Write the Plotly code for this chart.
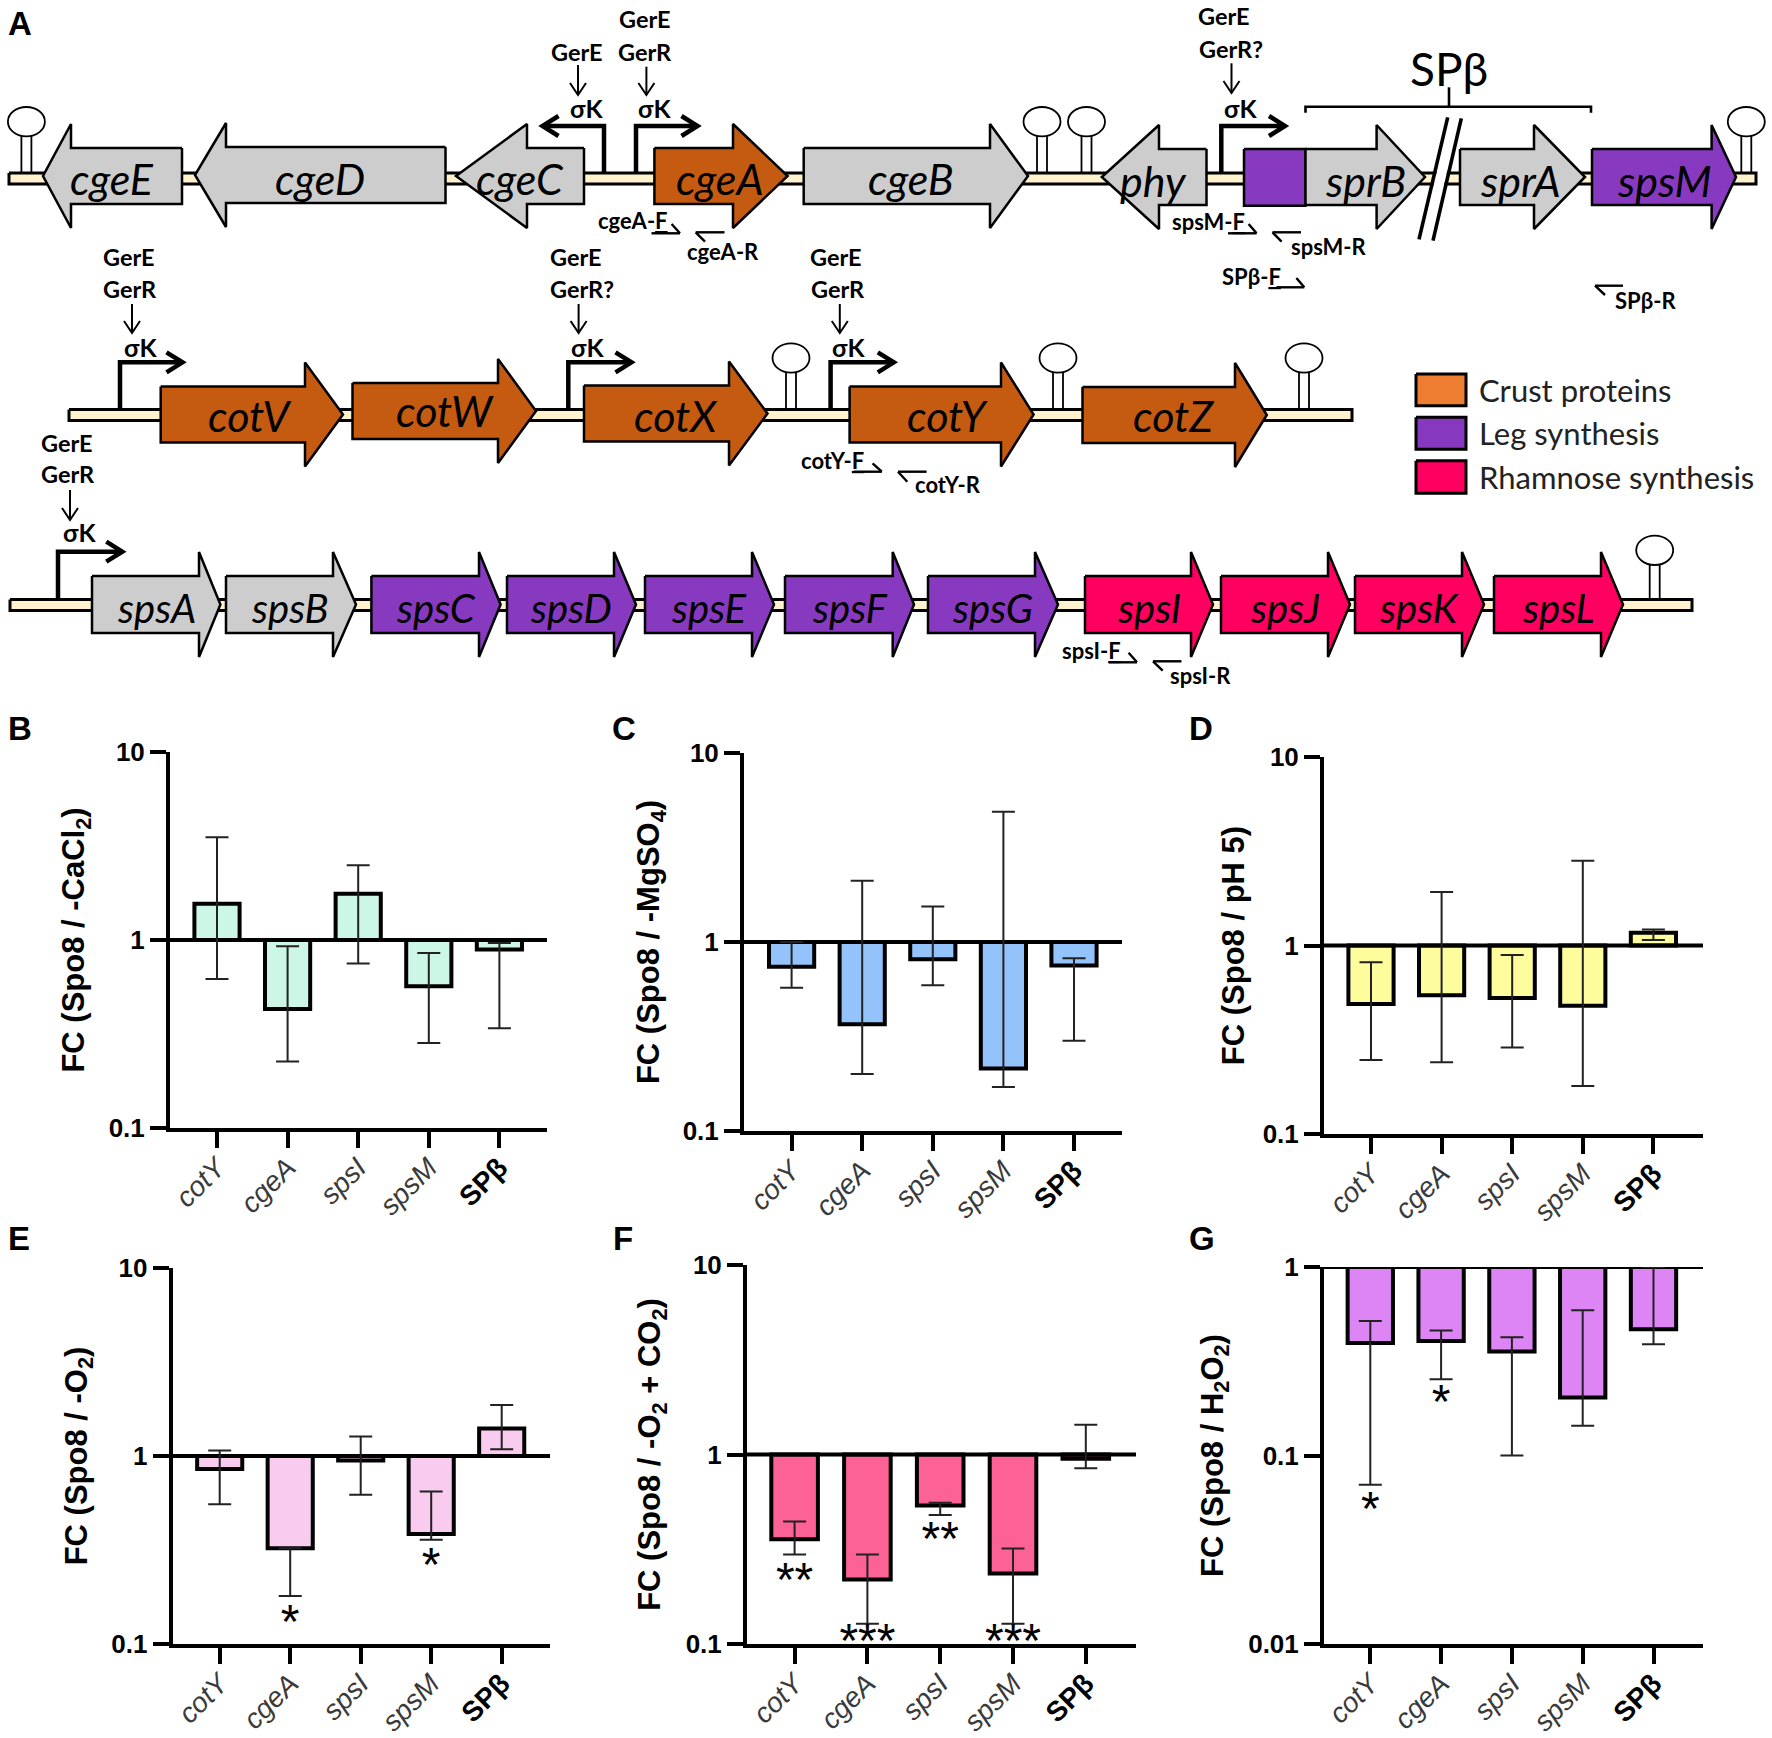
import plotly.graph_objects as go

W, H = 1772, 1738
categories = ["cotY", "cgeA", "spsI", "spsM", "SPβ"]
tick_labels = ["<i>cotY</i>", "<i>cgeA</i>", "<i>spsI</i>", "<i>spsM</i>", "<span style='color:black'><b>SPβ</b></span>"]

# ---------- fold change values ----------
b_val = [1.56, 0.43, 1.76, 0.567, 0.889]
b_hi = [3.52, 0.925, 2.5, 0.853, 0.964]
b_lo = [0.62, 0.226, 0.75, 0.283, 0.339]
c_val = [0.74, 0.367, 0.81, 0.214, 0.75]
c_hi = [1.0, 2.11, 1.54, 4.89, 0.82]
c_lo = [0.573, 0.2, 0.59, 0.171, 0.30]
d_val = [0.49, 0.545, 0.526, 0.479, 1.167]
d_hi = [0.816, 1.92, 0.89, 2.82, 1.216]
d_lo = [0.247, 0.24, 0.288, 0.18, 1.07]
e_val = [0.853, 0.323, 0.945, 0.385, 1.40]
e_hi = [1.07, 0.323, 1.27, 0.647, 1.87]
e_lo = [0.553, 0.18, 0.623, 0.358, 1.085]
f_val = [0.357, 0.219, 0.538, 0.2355, 0.949]
f_hi = [0.443, 0.297, 0.556, 0.319, 1.435]
f_lo = [0.297, 0.128, 0.48, 0.128, 0.847]
g_val = [0.395, 0.405, 0.356, 0.203, 0.467]
g_hi = [0.517, 0.46, 0.424, 0.589, 1.0]
g_lo = [0.07, 0.254, 0.1, 0.144, 0.389]

# panel: id, title, colour, values, hi, lo, axis x, end x, first tick x, tick step, top y, bottom y, y range, ticks, standoff
panels = [
    ("B", "FC (Spo8 / -CaCl<sub>2</sub>)", "#CCF7E6", b_val, b_hi, b_lo, 170, 547, 217, 70.6, 752, 1128, [-1, 1], [0.1, 1, 10], 15.5),
    ("C", "FC (Spo8 / -MgSO<sub>4</sub>)", "#94C2FA", c_val, c_hi, c_lo, 744, 1122, 791.6, 70.6, 753, 1131, [-1, 1], [0.1, 1, 10], 14.3),
    ("D", "FC (Spo8 / pH 5)", "#FEFD9E", d_val, d_hi, d_lo, 1324, 1703, 1371, 70.6, 757, 1134, [-1, 1], [0.1, 1, 10], 10),
    ("E", "FC (Spo8 / -O<sub>2</sub>)", "#F9CBEE", e_val, e_hi, e_lo, 172.6, 550, 219.7, 70.5, 1268, 1644, [-1, 1], [0.1, 1, 10], 15.5),
    ("F", "FC (Spo8 / -O<sub>2</sub> + CO<sub>2</sub>)", "#FD6296", f_val, f_hi, f_lo, 747, 1136, 794.6, 72.8, 1265, 1644, [-1, 1], [0.1, 1, 10], 16.6),
    ("G", "FC (Spo8 / H<sub>2</sub>O<sub>2</sub>)", "#DD85F5", g_val, g_hi, g_lo, 1324, 1703, 1370.3, 70.8, 1267, 1644, [-2, 0], [0.01, 0.1, 1], 16.6),
]
# significance marks: panel -> (category position, y value, text, text position)
stars = {
    "E": [(1, 0.125, "*", "middle center"), (3, 0.25, "*", "middle center")],
    "F": [(0, 0.208, "**", "middle center"), (1, 0.133, "***", "bottom center"), (2, 0.34, "**", "middle center"), (3, 0.133, "***", "bottom center")],
    "G": [(0, 0.0496, "*", "middle center"), (1, 0.183, "*", "middle center")],
}

# ---------- panel A schematic ----------
CREAM, GREY, ORANGE, PURPLE, PINK = "#FFF2CC", "#CDCDCD", "#C55A11", "#8739BF", "#FF0060"
# backbone: x0, x1, y centre
backbones = [(9, 1756, 178.5), (69, 1352, 415), (10, 1692, 605)]
# gene: name, tail x, neck x, tip x, y centre, colour
genes_row1 = [
    ("cgeE", 182, 71, 43, 176, GREY), ("cgeD", 445.5, 226, 195, 175, GREY), ("cgeC", 584, 527, 456, 176, GREY),
    ("cgeA", 654.4, 733, 787.6, 176, ORANGE), ("cgeB", 803.7, 990, 1028, 176, GREY), ("phy", 1206.5, 1159, 1101.8, 177, GREY),
    ("sprB", 1305.5, 1376.6, 1425, 177, GREY), ("sprA", 1460, 1534, 1585, 177, GREY), ("spsM", 1592, 1711.6, 1736, 177, PURPLE),
]
genes_row2 = [
    ("cotV", 160.7, 305, 343, 414.5, ORANGE), ("cotW", 352.5, 498, 536, 411, ORANGE), ("cotX", 584, 729, 767.5, 413.5, ORANGE),
    ("cotY", 849.6, 1001, 1033.6, 414.5, ORANGE), ("cotZ", 1082.5, 1235, 1266.8, 415, ORANGE),
]
genes_row3 = [
    ("spsA", 92, 199, 220.4, 604.5, GREY), ("spsB", 226, 333, 356, 604.5, GREY), ("spsC", 371.4, 479, 500.6, 604.5, PURPLE),
    ("spsD", 507, 614, 636, 604.5, PURPLE), ("spsE", 645, 752, 774, 604.5, PURPLE), ("spsF", 785, 892.7, 914, 604.5, PURPLE),
    ("spsG", 928, 1035, 1058, 604.5, PURPLE), ("spsI", 1085, 1191, 1213, 604.5, PINK), ("spsJ", 1221, 1328, 1350, 604.5, PINK),
    ("spsK", 1355, 1462, 1484, 604.5, PINK), ("spsL", 1494, 1601, 1623, 604.5, PINK),
]
# gene label centres
gene_labels = [
    ("cgeE", 112, 178, 43), ("cgeD", 320, 178, 43), ("cgeC", 519.5, 178, 43), ("cgeA", 720, 178, 43), ("cgeB", 911, 178, 43),
    ("phy", 1153, 180, 43), ("sprB", 1365, 180, 43), ("sprA", 1520, 180, 43), ("spsM", 1664, 180, 43),
    ("cotV", 250, 415, 43), ("cotW", 445, 410, 43), ("cotX", 676, 415, 43), ("cotY", 947, 415, 43), ("cotZ", 1173, 415, 43),
    ("spsA", 156, 608, 40), ("spsB", 290, 608, 40), ("spsC", 436, 608, 40), ("spsD", 571, 608, 40), ("spsE", 709, 608, 40),
    ("spsF", 850, 608, 40), ("spsG", 992, 608, 40), ("spsI", 1148.5, 608, 40), ("spsJ", 1285, 608, 40), ("spsK", 1419, 608, 40),
    ("spsL", 1558, 608, 40),
]
# hairpin: stem x, loop centre y, stem foot y
hairpins = [(26.4, 121.7, 172), (1042, 121.7, 172), (1086.5, 121.7, 172), (1746.3, 121.7, 172),
            (791, 358, 408), (1058, 358, 408), (1304, 358, 408), (1654.7, 550.3, 598)]
# promoter: stem x, foot y, bar y, head tip x
promoters = [(604, 172, 126, 542.5), (636, 172, 126, 697.5), (1221.3, 172, 126, 1285),
             (120, 408, 362.3, 182.5), (568.3, 408, 362.3, 631.5), (830.6, 408, 362.3, 893.8), (58, 598, 551.7, 122.3)]
# sigma label x, y
sigma_labels = [(586.7, 108), (654.4, 108), (1240.6, 108), (140.6, 346.7), (587.3, 346.7), (848.4, 346.7), (79.2, 531.7)]
# regulator arrow: x, y top, y bottom
reg_arrows = [(578, 65, 95), (646.4, 66.7, 95), (1231.5, 63.3, 93), (132, 304, 333), (578.6, 304, 333), (839.8, 304, 333), (70, 490, 520)]
# regulator text
reg_text = [("GerE", 577, 51.7), ("GerE", 644.7, 19.3), ("GerR", 645, 52.3), ("GerE", 1224, 16), ("GerR?", 1231, 49),
            ("GerE", 128.6, 256.7), ("GerR", 129.7, 289.3), ("GerE", 575.8, 256.7), ("GerR?", 581.5, 289.3),
            ("GerE", 836.4, 256.7), ("GerR", 837.5, 289.3), ("GerE", 66.6, 443.3), ("GerR", 67.7, 474.3)]
# primer: x0, x1, y, hook x, hook y
primers = [(651.5, 680, 233.3, 671.6, 224), (695.7, 724.5, 232.3, 705, 241.7), (1228, 1256.6, 233.3, 1248.6, 224),
           (1272.5, 1301, 232.3, 1281.6, 241.7), (1276.5, 1304.3, 287.3, 1296.4, 278), (1595, 1623, 285.7, 1605, 295),
           (853.6, 881.8, 471.7, 872.6, 463.3), (898, 926.6, 471.7, 907.3, 481.7), (1108.7, 1137, 662.3, 1128.6, 652.7),
           (1153, 1181.5, 661.3, 1162.7, 670.7)]
primer_text = [("cgeA-<u>F</u>", 633, 220), ("cgeA-R", 723, 251.7), ("spsM-<u>F</u>", 1208.8, 221.7), ("spsM-R", 1329.4, 246.7),
               ("SPβ-<u>F</u>", 1251, 276), ("SPβ-R", 1645, 300), ("cotY-<u>F</u>", 832.4, 460), ("cotY-R", 948, 484.3),
               ("spsI-<u>F</u>", 1091.6, 650.7), ("spsI-R", 1200, 675)]
legend_items = [("Crust proteins", "#ED7D31", 374, 405.7, 390), ("Leg synthesis", "#8639BF", 417.3, 449.3, 433),
                ("Rhamnose synthesis", "#FF0060", 460.7, 493.3, 477)]
panel_letters = [("A", 20, 23), ("B", 20, 728), ("C", 624, 728), ("D", 1201, 728), ("E", 19, 1238), ("F", 623, 1238), ("G", 1201.5, 1238)]

fig = go.Figure()
layout = dict(width=W, height=H, margin=dict(l=0, r=0, t=0, b=0, autoexpand=False), showlegend=False,
              paper_bgcolor="white", plot_bgcolor="rgba(0,0,0,0)")
annotations, shapes = [], []
SANS = "Liberation Sans"
positions = list(range(len(categories)))

for i, (pid, title, colour, val, hi, lo, ax0, ax1, t0, step, ytop, ybot, yr, yt, standoff) in enumerate(panels):
    n = i + 1
    xa, ya = f"x{n}", f"y{n}"
    xr = [(ax0 - t0) / step, (ax1 - t0) / step]
    fig.add_trace(go.Bar(x=positions, y=[v - 1 for v in val], base=1, width=0.64, xaxis=xa, yaxis=ya, name=pid,
                         marker=dict(color=colour, line=dict(color="black", width=4)), hoverinfo="skip"))
    fig.add_trace(go.Scatter(x=xr, y=[1, 1], mode="lines", xaxis=xa, yaxis=ya,
                             line=dict(color="black", width=4), hoverinfo="skip", cliponaxis=False))
    fig.add_trace(go.Scatter(x=positions, y=val, mode="markers", xaxis=xa, yaxis=ya, marker=dict(size=1, opacity=0),
                             cliponaxis=False,
                             error_y=dict(type="data", symmetric=False, array=[h - v for h, v in zip(hi, val)],
                                          arrayminus=[v - l for l, v in zip(lo, val)], thickness=2, width=11.5, color="#222222")))
    if pid in stars:
        fig.add_trace(go.Scatter(x=[s[0] for s in stars[pid]], y=[s[1] for s in stars[pid]], text=[s[2] for s in stars[pid]],
                                 mode="text", textposition=[s[3] for s in stars[pid]], xaxis=xa, yaxis=ya, cliponaxis=False,
                                 textfont=dict(family=SANS, size=48, color="black"), hoverinfo="skip"))
    layout[f"xaxis{n}"] = dict(domain=[ax0 / W, ax1 / W], anchor=ya, type="linear", automargin=False,
                               range=xr, tickmode="array", tickvals=positions, ticktext=tick_labels,
                               tickangle=-45, ticks="outside", ticklen=16, tickwidth=4, tickcolor="black",
                               ticklabelstandoff=-8,
                               showline=True, linecolor="black", linewidth=4, showgrid=False, zeroline=False,
                               tickfont=dict(family=SANS, size=28, color="#3A3A3A"))
    layout[f"yaxis{n}"] = dict(domain=[1 - ybot / H, 1 - ytop / H], anchor=xa, type="log", range=yr, tickmode="array", tickvals=yt,
                               automargin=False,
                               ticktext=[f"<b>{t:g}</b>" for t in yt], ticks="outside", ticklen=16, tickwidth=4, tickcolor="black",
                               showline=True, linecolor="black", linewidth=4, showgrid=False, zeroline=False,
                               tickfont=dict(family=SANS, size=26, color="black"),
                               title=dict(text=f"<b>{title}</b>", standoff=standoff, font=dict(family=SANS, size=31, color="black")))

# overlay subplot spanning the whole page, in image pixels
OX, OY = "x7", "y7"
layout["xaxis7"] = dict(domain=[0, 1], range=[0, W], visible=False, showticklabels=False, ticks="", anchor="y7", fixedrange=True, automargin=False)
layout["yaxis7"] = dict(domain=[0, 1], range=[H, 0], visible=False, showticklabels=False, ticks="", anchor="x7", fixedrange=True, automargin=False)


def poly(xs, ys, fill, lw=2.5):
    fig.add_trace(go.Scatter(x=xs, y=ys, mode="lines", fill="toself", fillcolor=fill, xaxis=OX, yaxis=OY,
                             line=dict(color="black", width=lw), hoverinfo="skip"))


def lines(segs, lw, colour="black"):
    xs, ys = [], []
    for seg in segs:
        xs += [p[0] for p in seg] + [None]
        ys += [p[1] for p in seg] + [None]
    fig.add_trace(go.Scatter(x=xs, y=ys, mode="lines", xaxis=OX, yaxis=OY, line=dict(color=colour, width=lw),
                             hoverinfo="skip"))


def label(text, x, y, size, family="Lato", colour="black", xanchor="center"):
    annotations.append(dict(text=text, x=x, y=y, xref=OX, yref=OY, showarrow=False, xanchor=xanchor, yanchor="middle",
                            font=dict(family=family, size=size, color=colour), borderpad=0))


for x0, x1, yc in backbones:
    poly([x0, x1, x1, x0, x0], [yc - 5.5, yc - 5.5, yc + 5.5, yc + 5.5, yc - 5.5], CREAM, 3)

# hairpins: stem + loop
for x, yl, foot in hairpins:
    lines([[(x - 5, yl + 13), (x - 5, foot)], [(x + 5, yl + 13), (x + 5, foot)]], 1.8)
    shapes.append(dict(type="circle", xref=OX, yref=OY, x0=x - 18.5, x1=x + 18.5, y0=yl - 14.7, y1=yl + 14.7,
                       line=dict(color="black", width=1.8), fillcolor="white", layer="above"))

# leg-synthesis box in front of sprB
poly([1244, 1305.5, 1305.5, 1244, 1244], [149, 149, 205.7, 205.7, 149], PURPLE)
for rows, body, head in ((genes_row1, 28, 52), (genes_row2, 28, 52), (genes_row3, 28.5, 52.5)):
    for name, tail, neck, tip, yc, colour in rows:
        poly([tail, neck, neck, tip, neck, neck, tail, tail],
             [yc - body, yc - body, yc - head, yc, yc + head, yc + body, yc + body, yc - body], colour)
for name, x, y, size in gene_labels:
    label(f"<i>{name}</i>", x, y, size)

# promoters
for x, foot, top, tip in promoters:
    d = 1 if tip > x else -1
    lines([[(x, foot), (x, top), (tip, top)], [(tip - d * 16, top - 10), (tip, top), (tip - d * 16, top + 10)]], 4.5)
for x, y in sigma_labels:
    label("<b>σK</b>", x, y, 25)
for x, y0, y1 in reg_arrows:
    lines([[(x, y0), (x, y1)], [(x - 8, y1 - 12), (x, y1), (x + 8, y1 - 12)]], 2)
for t, x, y in reg_text:
    label(f"<b>{t}</b>", x, y, 23.5)
for x0, x1, y, hx, hy in primers:
    ex = x1 if hy < y else x0
    lines([[(x0, y), (x1, y)], [(ex, y), (hx, hy)]], 2.4)
for t, x, y in primer_text:
    label(f"<b>{t}</b>", x, y, 22)

# SPβ bracket + break mark (white gap between the two slashes)
lines([[(1305.5, 112.7), (1305.5, 106.7), (1591, 106.7), (1591, 112.7)], [(1449, 87.3), (1449, 106.7)]], 2.6)
label("SPβ", 1449, 68, 46)
lines([[(1454.5, 117.8), (1426, 240)]], 10, colour="white")
lines([[(1447.7, 117.3), (1419, 239.3)], [(1461.3, 118.3), (1433, 240.7)]], 3.6)

# legend
for t, colour, y0, y1, yt in legend_items:
    poly([1416, 1466, 1466, 1416, 1416], [y0, y0, y1, y1, y0], colour, 3)
    label(t, 1478.4, yt, 31, xanchor="left", colour="#222222")

for t, x, y in panel_letters:
    label(f"<b>{t}</b>", x, y, 33, family=SANS)

layout["annotations"] = annotations
layout["shapes"] = shapes
fig.update_layout(**layout)
fig.write_html("out.html", config={"displayModeBar": False},
               post_script="document.body.style.margin='0';document.body.style.overflow='hidden';")
